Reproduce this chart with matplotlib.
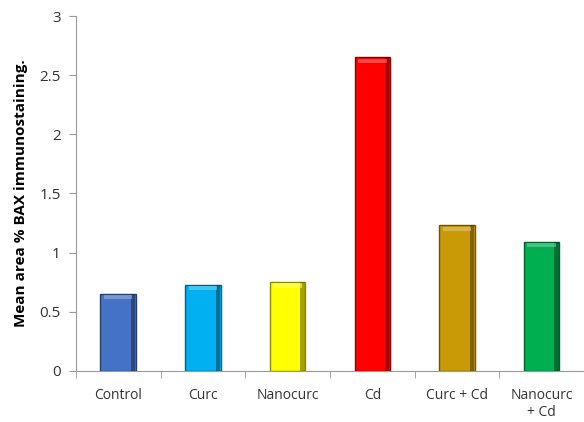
import matplotlib.pyplot as plt
import matplotlib.colors as mcolors
import numpy as np

categories = ["Control", "Curc", "Nanocurc", "Cd", "Curc + Cd", "Nanocurc\n+ Cd"]
values = [0.65, 0.73, 0.75, 2.65, 1.23, 1.09]
colors = ["#4472C4", "#00B0F0", "#FFFF00", "#FF0000", "#C99A06", "#00B050"]
yticks = [0, 0.5, 1, 1.5, 2, 2.5, 3]
ytick_labels = ["0", "0.5", "1", "1.5", "2", "2.5", "3"]

plt.rcParams['font.family'] = ['Open Sans', 'DejaVu Sans']

fig = plt.figure(figsize=(5.84, 4.22), dpi=100)
ax = fig.add_axes([0.130, 0.121, 0.870, 0.841])

x = np.arange(len(categories))
width = 0.42
for xi, v, c in zip(x, values, colors):
    rgb = np.array(mcolors.to_rgb(c))
    dark = tuple(rgb * 0.35)
    ax.bar(xi, v, width=width, color=c, edgecolor=tuple(rgb * 0.55), linewidth=1.0, zorder=2)
    # dark right side shading (bevel)
    ax.bar(xi + width * 0.42, v, width=width * 0.12, color=dark, alpha=0.55,
           linewidth=0, zorder=3)
    # light top bevel
    light = tuple(np.clip(rgb * 0.55 + 0.45, 0, 1))
    ax.bar(xi, 0.035, bottom=v - 0.045, width=width * 0.8, color=light,
           linewidth=0, zorder=3, alpha=0.6)

ax.set_xlim(-0.5, len(categories) - 0.5)
ax.set_ylim(0, 3)
ax.set_yticks(yticks)
ax.set_yticklabels(ytick_labels, fontsize=11, color="#333333")
ax.set_xticks(x)
ax.set_xticklabels(categories, fontsize=10, color="#333333")
ax.set_xticks(np.arange(-0.5, len(categories), 1.0), minor=True)
ax.tick_params(axis='x', which='major', length=0, pad=12)
ax.tick_params(axis='x', which='minor', length=5, color="#999999")
ax.tick_params(axis='y', length=5, color="#999999", pad=6)

for s in ["top", "right"]:
    ax.spines[s].set_visible(False)
for s in ["left", "bottom"]:
    ax.spines[s].set_color("#999999")

ax.set_ylabel("Mean area % BAX immunostaining.", fontsize=11, fontweight="bold", labelpad=8)

fig.savefig("out.png", dpi=100)
